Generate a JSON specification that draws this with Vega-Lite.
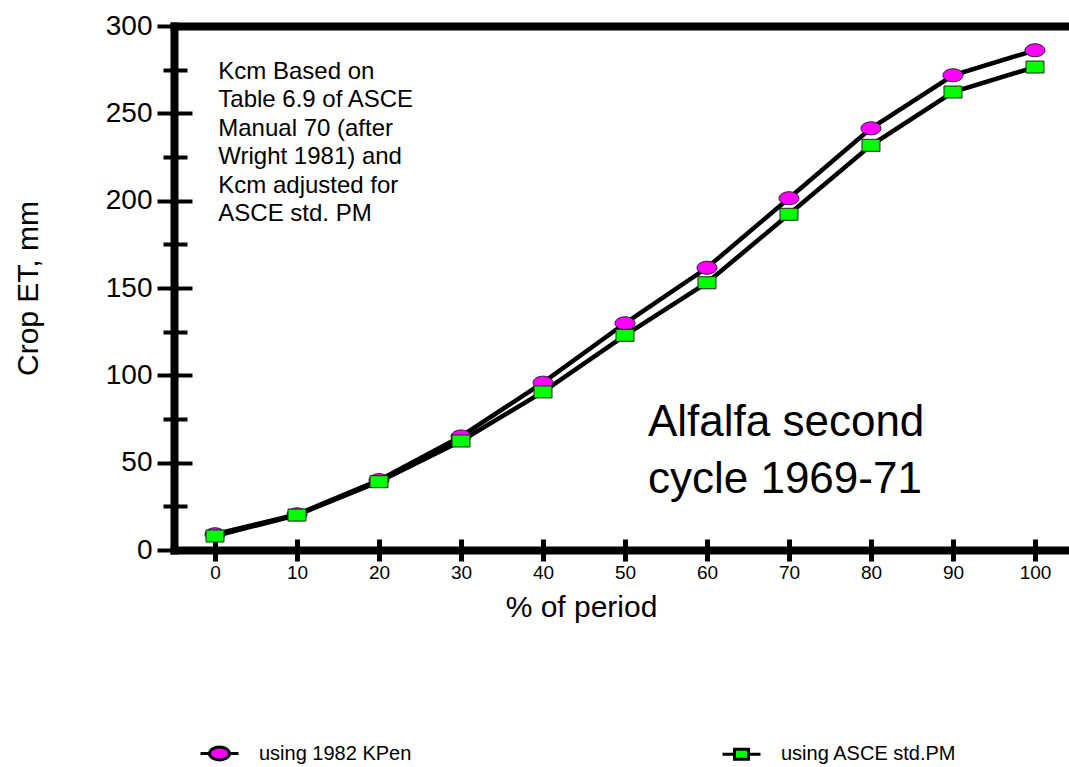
{
  "$schema": "https://vega.github.io/schema/vega-lite/v6.json",
  "width": 895,
  "height": 524,
  "autosize": {"type": "none"},
  "padding": {"left": 174, "top": 26, "right": 0, "bottom": 217},
  "config": {
    "font": "Liberation Sans",
    "view": {"stroke": null},
    "axis": {"grid": false, "domainColor": "black", "tickColor": "black", "labelColor": "black", "titleColor": "black", "titleFontWeight": "normal"}
  },
  "data": {
    "values": [
      {"pct": 0, "et": 9, "series": "using 1982 KPen"},
      {"pct": 10, "et": 20.4, "series": "using 1982 KPen"},
      {"pct": 20, "et": 40, "series": "using 1982 KPen"},
      {"pct": 30, "et": 65, "series": "using 1982 KPen"},
      {"pct": 40, "et": 95.8, "series": "using 1982 KPen"},
      {"pct": 50, "et": 129.8, "series": "using 1982 KPen"},
      {"pct": 60, "et": 161.6, "series": "using 1982 KPen"},
      {"pct": 70, "et": 201.4, "series": "using 1982 KPen"},
      {"pct": 80, "et": 241.4, "series": "using 1982 KPen"},
      {"pct": 90, "et": 271.8, "series": "using 1982 KPen"},
      {"pct": 100, "et": 286.1, "series": "using 1982 KPen"},
      {"pct": 0, "et": 8, "series": "using ASCE std.PM"},
      {"pct": 10, "et": 20, "series": "using ASCE std.PM"},
      {"pct": 20, "et": 39.1, "series": "using ASCE std.PM"},
      {"pct": 30, "et": 62.4, "series": "using ASCE std.PM"},
      {"pct": 40, "et": 90.5, "series": "using ASCE std.PM"},
      {"pct": 50, "et": 122.9, "series": "using ASCE std.PM"},
      {"pct": 60, "et": 153, "series": "using ASCE std.PM"},
      {"pct": 70, "et": 192.2, "series": "using ASCE std.PM"},
      {"pct": 80, "et": 231.7, "series": "using ASCE std.PM"},
      {"pct": 90, "et": 262.2, "series": "using ASCE std.PM"},
      {"pct": 100, "et": 276.5, "series": "using ASCE std.PM"}
    ]
  },
  "resolve": {
    "scale": {"x": "shared", "y": "shared", "shape": "independent", "fill": "independent"},
    "axis": {"x": "independent", "y": "independent"}
  },
  "layer": [
    {
      "mark": {"type": "line", "color": "black", "strokeWidth": 4.5},
      "encoding": {
        "x": {
          "field": "pct", "type": "quantitative",
          "scale": {"domain": [-5, 104.15], "nice": false, "zero": false},
          "axis": {
            "orient": "bottom",
            "values": [0, 10, 20, 30, 40, 50, 60, 70, 80, 90, 100],
            "tickSize": 11, "tickWidth": 5,
            "domainWidth": 8, "domainCap": "square",
            "labelFontSize": 19, "labelPadding": 2,
            "title": "% of period", "titleFontSize": 30,
            "titleX": 407, "titleY": 57, "titleBaseline": "middle", "titleAlign": "center"
          }
        },
        "y": {
          "field": "et", "type": "quantitative",
          "scale": {"domain": [0, 300], "nice": false},
          "axis": {
            "orient": "left",
            "values": [0, 50, 100, 150, 200, 250, 300],
            "tickSize": 17, "tickWidth": 4,
            "domainWidth": 8, "domainCap": "square",
            "labelFontSize": 28, "labelPadding": 5,
            "title": "Crop ET, mm", "titleFontSize": 30,
            "titleX": -146, "titleY": 262, "titleAngle": -90, "titleBaseline": "middle", "titleAlign": "center"
          }
        },
        "detail": {"field": "series"}
      }
    },
    {
      "mark": {"type": "point", "filled": true, "stroke": "#222222", "strokeWidth": 1, "size": 400, "opacity": 1},
      "encoding": {
        "x": {
          "field": "pct", "type": "quantitative",
          "axis": {"orient": "bottom", "values": [0, 10, 20, 30, 40, 50, 60, 70, 80, 90, 100], "tickSize": -11, "tickWidth": 5, "labels": false, "domain": false, "title": null}
        },
        "y": {
          "field": "et", "type": "quantitative",
          "axis": {
            "orient": "left",
            "values": [0, 25, 50, 75, 100, 125, 150, 175, 200, 225, 250, 275, 300],
            "tickSize": {"condition": {"test": "datum.value % 50 === 0", "value": -18}, "value": -13},
            "tickWidth": 4, "labels": false, "domain": false, "title": null
          }
        },
        "fill": {
          "field": "series", "type": "nominal",
          "scale": {"domain": ["using 1982 KPen", "using ASCE std.PM"], "range": ["#FF00FF", "#00FF00"]},
          "legend": null
        },
        "shape": {
          "field": "series", "type": "nominal",
          "scale": {"domain": ["using 1982 KPen", "using ASCE std.PM"], "range": ["M-1,0A1,0.65 0 1 1 1,0A1,0.65 0 1 1 -1,0Z", "M-0.9,-0.6H0.9V0.6H-0.9Z"]},
          "legend": null
        }
      }
    },
    {
      "mark": {"type": "point", "filled": true, "stroke": "black", "strokeWidth": 3, "size": 400, "opacity": 0},
      "encoding": {
        "x": {"field": "pct", "type": "quantitative", "axis": null},
        "y": {"field": "et", "type": "quantitative", "axis": null},
        "fill": {
          "field": "series", "type": "nominal",
          "scale": {"domain": ["using 1982 KPen", "using ASCE std.PM"], "range": ["#FF00FF", "#00FF00"]},
          "legend": {
            "orient": "none", "legendX": 34, "legendY": 716, "direction": "horizontal",
            "title": null, "labelFontSize": 20, "labelColor": "black", "labelLimit": 400,
            "symbolSize": 400, "symbolStrokeColor": "black", "symbolStrokeWidth": 3, "symbolOpacity": 1,
            "labelOffset": 28, "columnPadding": 304,
            "encode": {"symbols": {"update": {"stroke": {"value": "black"}, "strokeWidth": {"value": 3}}}}
          }
        },
        "shape": {
          "field": "series", "type": "nominal",
          "scale": {"domain": ["using 1982 KPen", "using ASCE std.PM"], "range": ["M-1.9,0H-1M1,0H1.9M-1,0A1,0.65 0 1 1 1,0A1,0.65 0 1 1 -1,0Z", "M-1.9,0H-0.7M0.7,0H1.9M-0.7,-0.5H0.7V0.5H-0.7Z"]},
          "legend": {
            "orient": "none", "legendX": 34, "legendY": 716, "direction": "horizontal",
            "title": null, "labelFontSize": 20, "labelColor": "black", "labelLimit": 400,
            "symbolSize": 400, "symbolStrokeColor": "black", "symbolStrokeWidth": 3, "symbolOpacity": 1,
            "labelOffset": 28, "columnPadding": 304,
            "encode": {"symbols": {"update": {"stroke": {"value": "black"}, "strokeWidth": {"value": 3}}}}
          }
        }
      }
    },
    {
      "data": {"values": [{}]},
      "mark": {
        "type": "text",
        "text": ["Kcm Based on", "Table 6.9 of ASCE", "Manual 70 (after", "Wright 1981) and", "Kcm adjusted for", "ASCE std. PM"],
        "align": "left", "baseline": "middle", "fontSize": 24, "lineHeight": 28.5, "color": "black"
      },
      "encoding": {
        "x": {"datum": 0.4, "type": "quantitative", "axis": {"orient": "top", "labels": false, "ticks": false, "domainWidth": 8, "domainCap": "square", "title": null}},
        "y": {"datum": 273.7, "type": "quantitative", "axis": {"orient": "left", "values": [25, 75, 125, 175, 225, 275], "tickSize": 11, "tickWidth": 4, "labels": false, "domain": false, "title": null}}
      }
    },
    {
      "data": {"values": [{}]},
      "mark": {
        "type": "text",
        "text": ["Alfalfa second", "cycle 1969-71"],
        "align": "left", "baseline": "middle", "fontSize": 44, "lineHeight": 57, "color": "black"
      },
      "encoding": {
        "x": {"datum": 52.8, "type": "quantitative", "axis": null},
        "y": {"datum": 72.7, "type": "quantitative", "axis": null}
      }
    }
  ]
}
